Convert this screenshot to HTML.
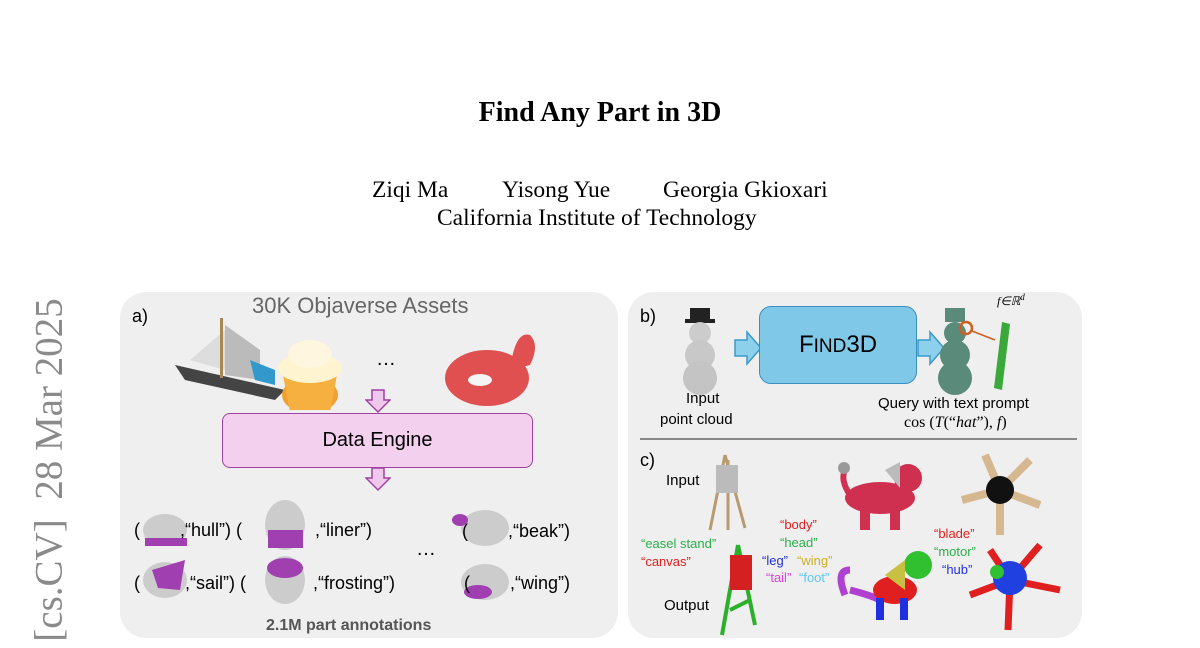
<!DOCTYPE html>
<html><head><meta charset="utf-8"><style>
body{margin:0;width:1200px;height:648px;background:#fff;position:relative;overflow:hidden;font-family:"Liberation Sans",sans-serif}
.a{position:absolute}
.serif{font-family:"Liberation Serif",serif}
.t{position:absolute;white-space:nowrap}
</style></head><body>
<div class="t serif" style="left:0;width:1200px;text-align:center;top:97px;font-size:28px;font-weight:bold">Find Any Part in 3D</div>
<div class="t serif" style="left:372px;top:177px;font-size:23.5px">Ziqi Ma</div>
<div class="t serif" style="left:502px;top:177px;font-size:23.5px">Yisong Yue</div>
<div class="t serif" style="left:663px;top:177px;font-size:23.5px">Georgia Gkioxari</div>
<div class="t serif" style="left:437px;top:205px;font-size:23.5px">California Institute of Technology</div>
<div class="t serif" style="left:49px;top:470px;font-size:39px;color:#8a8a8a;transform:translate(-50%,-50%) rotate(-90deg)">[cs.CV]&nbsp;&nbsp;28 Mar 2025</div>

<div class="a" style="left:120px;top:292px;width:498px;height:346px;background:#efefef;border-radius:26px"></div>
<div class="a" style="left:628px;top:292px;width:454px;height:346px;background:#efefef;border-radius:26px"></div>

<!-- panel a -->
<div class="t" style="left:132px;top:306px;font-size:18px">a)</div>
<div class="t" style="left:252px;top:293px;font-size:22px;color:#666">30K Objaverse Assets</div>
<svg class="a" style="left:165px;top:310px" width="430" height="100">
<polygon points="10,55 120,80 110,90 20,70" fill="#444"/>
<polygon points="25,50 60,20 60,60" fill="#ddd"/><polygon points="60,15 95,40 95,70 60,65" fill="#bbb"/>
<rect x="55" y="8" width="3" height="60" fill="#a85"/>
<polygon points="85,50 110,60 110,75 90,70" fill="#39c"/>
<ellipse cx="145" cy="85" rx="28" ry="18" fill="#f0a030"/>
<polygon points="118,65 172,65 165,102 125,102" fill="#f5b040"/>
<ellipse cx="145" cy="58" rx="32" ry="15" fill="#fff4d0"/><ellipse cx="145" cy="44" rx="22" ry="14" fill="#fff6e0"/>
<ellipse cx="322" cy="68" rx="42" ry="28" fill="#e05050"/>
<ellipse cx="315" cy="70" rx="12" ry="6" fill="#f5f5f5"/>
<path d="M345,60 Q350,20 365,25 Q375,35 365,55" fill="#e05050"/>
</svg>
<div class="t" style="left:376px;top:348px;font-size:20px">…</div>
<svg class="a" style="left:365px;top:389px" width="26" height="104">
<path d="M7,1 h12 v10 h6 l-12,12 l-12,-12 h6z" fill="#f0c8ee" stroke="#a040a0" stroke-width="1.5"/>
<path d="M7,79 h12 v10 h6 l-12,12 l-12,-12 h6z" fill="#f0c8ee" stroke="#a040a0" stroke-width="1.5"/>
</svg>
<div class="a" style="left:222px;top:413px;width:311px;height:55px;background:#f2d0ee;border:1.5px solid #a040a0;border-radius:8px;box-sizing:border-box;text-align:center;line-height:53px;font-size:20px">Data Engine</div>
<svg class="a" style="left:140px;top:500px" width="440" height="115">
<g fill="#ccc"><ellipse cx="25" cy="30" rx="22" ry="16"/><ellipse cx="145" cy="25" rx="20" ry="25"/><ellipse cx="345" cy="28" rx="24" ry="18"/>
<ellipse cx="25" cy="80" rx="22" ry="18"/><ellipse cx="145" cy="80" rx="20" ry="24"/><ellipse cx="345" cy="82" rx="24" ry="18"/></g>
<g fill="#a040b0"><rect x="5" y="38" width="42" height="8"/><rect x="128" y="30" width="35" height="18"/><ellipse cx="320" cy="20" rx="8" ry="6"/>
<polygon points="12,70 45,60 40,90 18,88"/><ellipse cx="145" cy="68" rx="18" ry="10"/><ellipse cx="338" cy="92" rx="14" ry="7"/></g>
</svg>
<div class="t" style="left:134px;top:520px;font-size:18px">( &nbsp;&nbsp;&nbsp;&nbsp;&nbsp;&nbsp;&nbsp;,“hull”) (</div>
<div class="t" style="left:315px;top:520px;font-size:18px">,“liner”)</div>
<div class="t" style="left:462px;top:521px;font-size:18px">( &nbsp;&nbsp;&nbsp;&nbsp;&nbsp;&nbsp;&nbsp;,“beak”)</div>
<div class="t" style="left:134px;top:573px;font-size:18px">( &nbsp;&nbsp;&nbsp;&nbsp;&nbsp;&nbsp;&nbsp;&nbsp;,“sail”) (</div>
<div class="t" style="left:313px;top:573px;font-size:18px">,“frosting”)</div>
<div class="t" style="left:464px;top:573px;font-size:18px">( &nbsp;&nbsp;&nbsp;&nbsp;&nbsp;&nbsp;&nbsp;,“wing”)</div>
<div class="t" style="left:416px;top:538px;font-size:20px">…</div>
<div class="t" style="left:266px;top:617px;font-size:16px;font-weight:bold;color:#555">2.1M part annotations</div>

<!-- panel b -->
<div class="t" style="left:640px;top:306px;font-size:18px">b)</div>
<svg class="a" style="left:680px;top:300px" width="380" height="100">
<rect x="10" y="8" width="20" height="12" fill="#222"/><rect x="5" y="19" width="30" height="4" fill="#222"/>
<circle cx="20" cy="33" r="11" fill="#ccc"/><circle cx="20" cy="55" r="15" fill="#c8c8c8"/><circle cx="20" cy="78" r="17" fill="#c4c4c4"/>
<path d="M55,40 h12 v-8 l14,16 l-14,16 v-8 h-12z" fill="#8cd0ec" stroke="#3a9ac8" stroke-width="1.5"/>
<path d="M238,40 h12 v-8 l14,16 l-14,16 v-8 h-12z" fill="#8cd0ec" stroke="#3a9ac8" stroke-width="1.5"/>
<g fill="#5a8a7a"><circle cx="275" cy="33" r="11"/><circle cx="275" cy="55" r="15"/><circle cx="275" cy="78" r="17"/><rect x="265" y="8" width="20" height="14"/></g>
<circle cx="286" cy="28" r="6" fill="none" stroke="#d06020" stroke-width="2.5"/>
<line x1="292" y1="31" x2="315" y2="40" stroke="#d06020" stroke-width="1.5"/>
<polygon points="322,22 330,24 322,90 314,88" fill="#3aa83a"/>
</svg>
<div class="a" style="left:759px;top:306px;width:158px;height:78px;background:#80c8e8;border:1.5px solid #3a8ec0;border-radius:12px;box-sizing:border-box;text-align:center;line-height:76px;font-size:24px">F<span style="font-size:19px">IND</span>3D</div>
<div class="t serif" style="left:997px;top:292px;font-size:12px;font-style:italic">f∈ℝ<sup style="font-size:9px">d</sup></div>
<div class="t" style="left:686px;top:390px;font-size:15px">Input</div>
<div class="t" style="left:660px;top:411px;font-size:15px">point cloud</div>
<div class="t" style="left:878px;top:395px;font-size:15px">Query with text prompt</div>
<div class="t serif" style="left:904px;top:414px;font-size:16px">cos (<i>T</i>(“<i>hat</i>”), <i>f</i>)</div>
<div class="a" style="left:640px;top:438px;width:437px;height:2px;background:#888"></div>

<!-- panel c -->
<div class="t" style="left:640px;top:450px;font-size:18px">c)</div>
<div class="t" style="left:666px;top:472px;font-size:15px">Input</div>
<div class="t" style="left:664px;top:597px;font-size:15px">Output</div>
<svg class="a" style="left:700px;top:450px" width="390" height="190">
<g stroke="#b89a70" stroke-width="3"><line x1="25" y1="5" x2="10" y2="80"/><line x1="25" y1="5" x2="45" y2="78"/><line x1="28" y1="10" x2="28" y2="80"/></g>
<rect x="16" y="15" width="22" height="28" fill="#bbb"/>
<g stroke="#2ab02a" stroke-width="4"><line x1="38" y1="95" x2="22" y2="185"/><line x1="38" y1="95" x2="55" y2="175"/><line x1="30" y1="160" x2="50" y2="150"/></g>
<rect x="30" y="105" width="22" height="35" fill="#d42020"/>
<g fill="#d03050"><ellipse cx="180" cy="48" rx="35" ry="16"/><circle cx="208" cy="28" r="14"/><rect x="160" y="55" width="10" height="25"/><rect x="190" y="55" width="10" height="25"/>
<path d="M150,45 Q140,30 145,20" stroke="#d03050" stroke-width="6" fill="none"/></g>
<polygon points="185,20 200,12 200,38" fill="#bbb"/>
<circle cx="144" cy="18" r="6" fill="#999"/>
<g stroke="#d6b890" stroke-width="8"><line x1="300" y1="40" x2="285" y2="5"/><line x1="300" y1="40" x2="330" y2="10"/><line x1="300" y1="40" x2="340" y2="55"/><line x1="300" y1="40" x2="300" y2="85"/><line x1="300" y1="40" x2="262" y2="50"/></g>
<circle cx="300" cy="40" r="14" fill="#111"/>
<path d="M145,145 Q135,120 150,120" stroke="#b040d0" stroke-width="7" fill="none"/>
<path d="M150,140 Q170,145 180,150" stroke="#b040d0" stroke-width="7" fill="none"/>
<ellipse cx="195" cy="140" rx="22" ry="14" fill="#e02020"/>
<circle cx="218" cy="115" r="14" fill="#30c030"/>
<polygon points="185,125 205,110 205,140" fill="#c8c040"/>
<rect x="176" y="148" width="8" height="22" fill="#2030e0"/><rect x="200" y="148" width="8" height="22" fill="#2030e0"/>
<g stroke="#e02020" stroke-width="7"><line x1="310" y1="130" x2="290" y2="100"/><line x1="310" y1="130" x2="340" y2="95"/><line x1="310" y1="130" x2="360" y2="140"/><line x1="310" y1="130" x2="308" y2="180"/><line x1="310" y1="130" x2="270" y2="145"/></g>
<circle cx="310" cy="128" r="17" fill="#2040e0"/><circle cx="297" cy="122" r="7" fill="#30c030"/>
</svg>
<div class="t" style="left:641px;top:536px;font-size:13px;color:#2ab04a">“easel stand”</div>
<div class="t" style="left:641px;top:554px;font-size:13px;color:#e02020">“canvas”</div>
<div class="t" style="left:780px;top:517px;font-size:13px;color:#e02020">“body”</div>
<div class="t" style="left:780px;top:535px;font-size:13px;color:#2ab04a">“head”</div>
<div class="t" style="left:762px;top:553px;font-size:13px;color:#2030e0">“leg”</div>
<div class="t" style="left:797px;top:553px;font-size:13px;color:#d0b020">“wing”</div>
<div class="t" style="left:766px;top:570px;font-size:13px;color:#e040e0">“tail”</div>
<div class="t" style="left:799px;top:570px;font-size:13px;color:#60c8f0">“foot”</div>
<div class="t" style="left:934px;top:526px;font-size:13px;color:#e02020">“blade”</div>
<div class="t" style="left:934px;top:544px;font-size:13px;color:#2ab04a">“motor”</div>
<div class="t" style="left:942px;top:562px;font-size:13px;color:#2030e0">“hub”</div>
</body></html>
